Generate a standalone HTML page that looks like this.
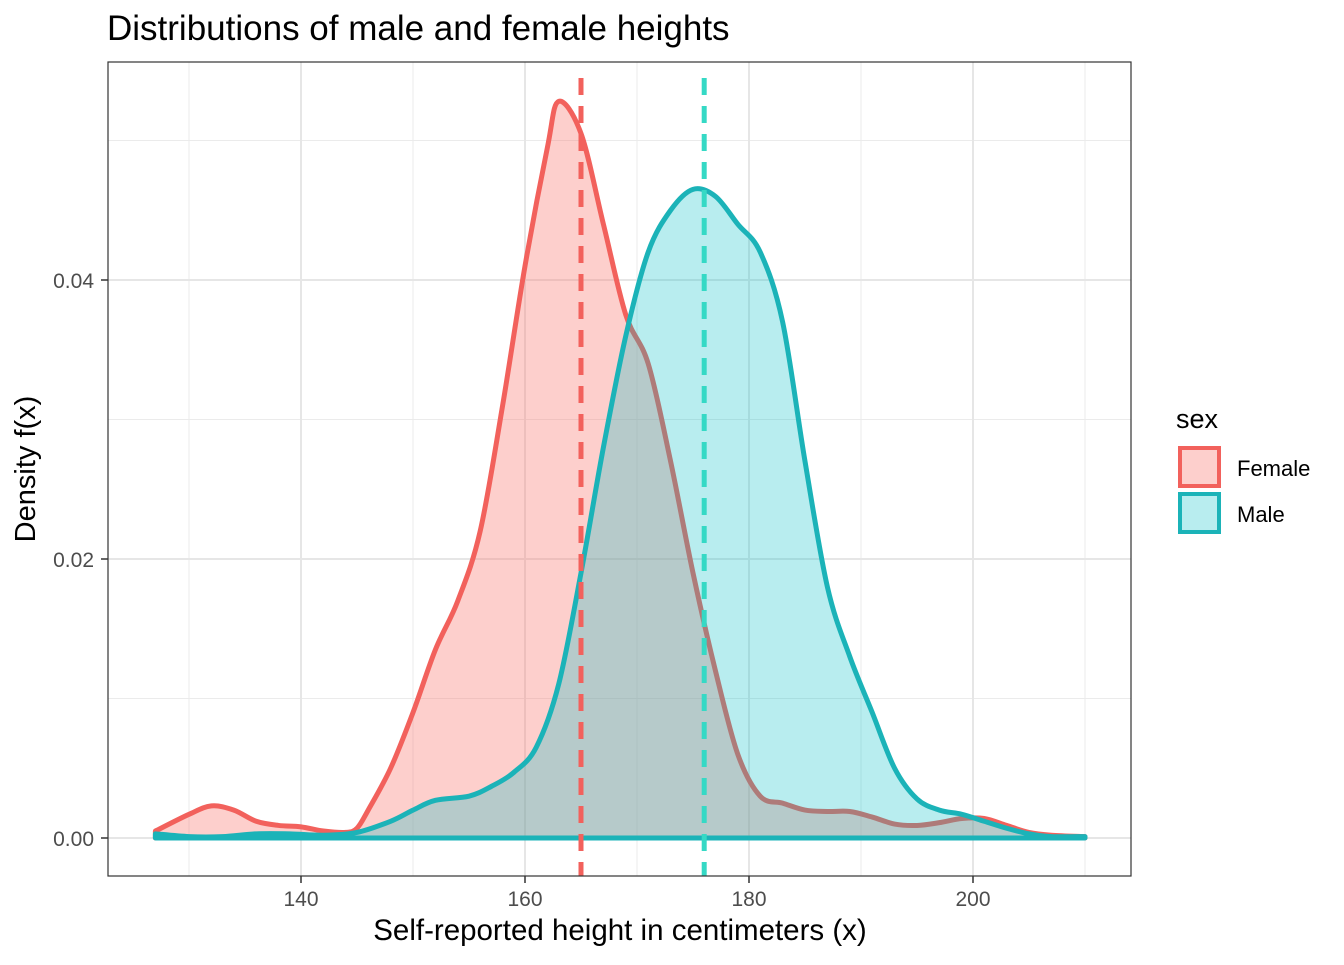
<!DOCTYPE html>
<html><head><meta charset="utf-8"><style>
body{margin:0;background:#fff}
text{font-family:"Liberation Sans",Arial,sans-serif}
</style></head><body>
<svg id="chart" width="1344" height="960" xmlns="http://www.w3.org/2000/svg">
<rect width="1344" height="960" fill="#fff"/>
<text x="107" y="40" font-size="35" fill="#000">Distributions of male and female heights</text>
<g id="grid"></g>
<g id="marks"></g>
<rect x="108" y="62" width="1023" height="814" fill="none" stroke="#333" stroke-width="1.2"/>
<g id="axes"></g>
<text x="620" y="940" font-size="29.5" text-anchor="middle">Self-reported height in centimeters (x)</text>
<text transform="translate(35,469) rotate(-90)" font-size="29" text-anchor="middle">Density f(x)</text>
<g>
<text x="1176" y="428" font-size="27">sex</text>
<rect x="1180" y="448" width="39" height="38" fill="rgba(248,118,109,0.35)" stroke="#F2615C" stroke-width="4"/>
<text x="1237" y="476" font-size="22">Female</text>
<rect x="1180" y="494" width="39" height="38" fill="rgba(0,191,196,0.28)" stroke="#1BB3B8" stroke-width="4"/>
<text x="1237" y="522" font-size="22">Male</text>
</g>
</svg>
<script>
const heights=[127,130,132,134,136,138,140,142,144,145,146,148,150,152,154,156,158,160,162,163,165,167,169,171,173,175,177,179,181,183,185,187,189,191,193,195,197,199,201,203,205,207,210];
const femaleDensity=[0.0005,0.0017,0.0023,0.002,0.0012,0.0009,0.0008,0.0005,0.0004,0.0007,0.002,0.005,0.009,0.0135,0.017,0.022,0.031,0.041,0.0495,0.0528,0.0505,0.044,0.0375,0.034,0.027,0.019,0.012,0.006,0.003,0.0025,0.002,0.0019,0.0019,0.0015,0.001,0.0009,0.0011,0.0014,0.0014,0.0009,0.0004,0.0002,0.0001];
const maleHeights=[127,130,133,136,139,142,145,148,150,152,155,157,159,161,163,165,167,169,171,173,175,177,179,181,183,185,187,189,191,193,195,197,199,201,203,205,207,210];
const maleDensity=[0.0003,0.0001,0.0001,0.0003,0.0003,0.0002,0.0004,0.0012,0.002,0.0027,0.003,0.0037,0.0047,0.0065,0.011,0.019,0.028,0.036,0.042,0.045,0.0465,0.046,0.044,0.042,0.037,0.027,0.018,0.013,0.009,0.005,0.0028,0.002,0.0017,0.0012,0.0007,0.0003,0.0001,0.0001];
const groupMeans=[165,176];
const xTicks=[140,160,180,200];
const xMinor=[130,150,170,190,210];
const yTicks=[0,0.02,0.04];
const yTickLabels=["0.00","0.02","0.04"];
const yMinor=[0.01,0.03,0.05];
const X=v=>301+(v-140)*11.2;
const Y=v=>838-v*13950;
const NS="http://www.w3.org/2000/svg";
function mk(tag,attrs,parent){const e=document.createElementNS(NS,tag);for(const k in attrs)e.setAttribute(k,attrs[k]);parent.appendChild(e);return e;}
const grid=document.getElementById('grid'),marks=document.getElementById('marks'),axes=document.getElementById('axes');
xMinor.forEach(v=>{const l=mk('line',{x1:X(v),x2:X(v),y1:62,y2:876,stroke:'#ebebeb','stroke-width':1},grid);

});
yMinor.forEach(v=>{const l=mk('line',{x1:108,x2:1131,y1:Y(v),y2:Y(v),stroke:'#ebebeb','stroke-width':1},grid);

});
xTicks.forEach(v=>{const l=mk('line',{x1:X(v),x2:X(v),y1:62,y2:876,stroke:'#e6e6e6','stroke-width':2},grid);


const t=mk('line',{x1:X(v),x2:X(v),y1:876,y2:883,stroke:'#333','stroke-width':1.5},axes);


const tx=mk('text',{x:X(v),y:906,'font-size':21,fill:'#4d4d4d','text-anchor':'middle'},axes);tx.textContent=v;

});
yTicks.forEach((v,i)=>{const l=mk('line',{x1:108,x2:1131,y1:Y(v),y2:Y(v),stroke:'#e6e6e6','stroke-width':2},grid);


const t=mk('line',{x1:101,x2:108,y1:Y(v),y2:Y(v),stroke:'#333','stroke-width':1.5},axes);


const tx=mk('text',{x:94,y:Y(v)+8,'font-size':21,fill:'#4d4d4d','text-anchor':'end'},axes);tx.textContent=yTickLabels[i];

});
function smooth(xs,ys){const p=xs.map((x,i)=>[X(x),Y(ys[i])]);let d='M'+p[0][0]+','+p[0][1];
for(let i=0;i<p.length-1;i++){const p0=p[Math.max(0,i-1)],p1=p[i],p2=p[i+1],p3=p[Math.min(p.length-1,i+2)];
d+=' C'+(p1[0]+(p2[0]-p0[0])/6)+','+(p1[1]+(p2[1]-p0[1])/6)+' '+(p2[0]-(p3[0]-p1[0])/6)+','+(p2[1]-(p3[1]-p1[1])/6)+' '+p2[0]+','+p2[1];}
d+=' L'+X(xs[xs.length-1])+','+Y(0)+' L'+X(xs[0])+','+Y(0)+' Z';return d;}
const f=mk('path',{d:smooth(heights,femaleDensity),fill:'rgba(248,118,109,0.35)',stroke:'#F2615C','stroke-width':5,'stroke-linejoin':'round'},marks);


const m=mk('path',{d:smooth(maleHeights,maleDensity),fill:'rgba(0,191,196,0.28)',stroke:'#1BB3B8','stroke-width':5,'stroke-linejoin':'round'},marks);


const mc=['#F2615C','#35D9C5'];
groupMeans.forEach((v,i)=>{const l=mk('line',{x1:X(v),x2:X(v),y1:78,y2:876,stroke:mc[i],'stroke-width':5,'stroke-dasharray':'17,11'},marks);

});
</script>
</body></html>
